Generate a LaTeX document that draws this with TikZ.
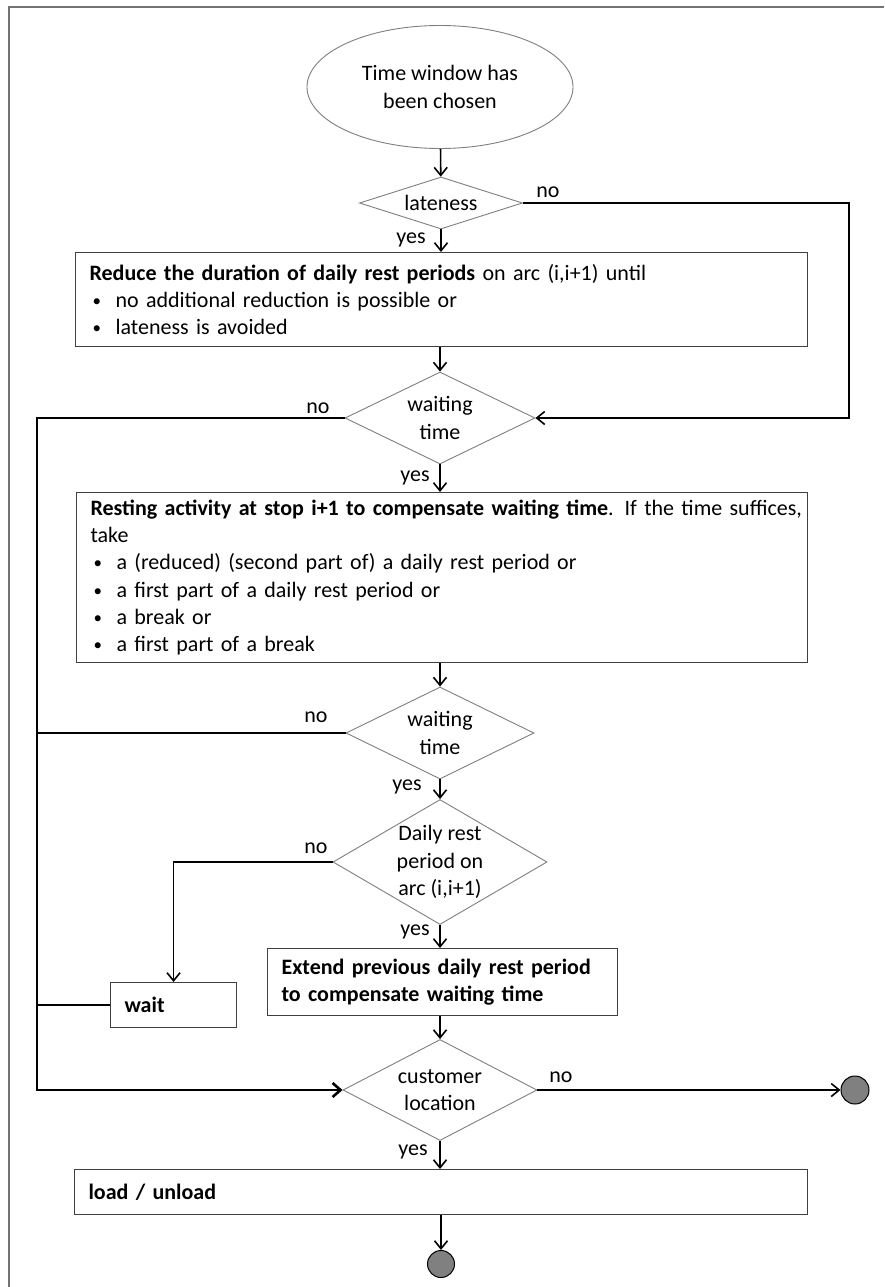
\documentclass[tikz,border=0pt]{standalone}
\usepackage{fontspec}
\setmainfont{Carlito}
\usetikzlibrary{shapes.geometric,arrows.meta,calc}
\definecolor{diagray}{HTML}{7F7F7F}
\definecolor{boxgray}{HTML}{404040}
\definecolor{endgray}{HTML}{808080}
\definecolor{framegray}{HTML}{737373}
\newcommand{\myb}{\hspace*{3pt}\makebox[23pt][l]{\raisebox{1pt}{\fontsize{17}{17}\selectfont •}}}
\begin{document}
\begin{tikzpicture}[x=1pt,y=-1pt,
  every node/.style={font=\fontsize{22}{27.3}\selectfont},
  dia/.style={diamond, draw=diagray, line width=0.9pt, inner sep=0pt},
  dtext/.style={align=center, inner sep=0pt},
  box/.style={draw=boxgray, line width=1.1pt, rectangle, align=left, anchor=north west, inner xsep=14pt, inner ysep=0pt},
  lbl/.style={inner sep=0pt},
  conn/.style={line width=1.6pt, draw=black},
  arr/.style={conn, -{Straight Barb[length=8pt,width=13pt]}},
  trunk/.style={line width=2.6pt, draw=black},
  endc/.style={circle, draw=black, fill=endgray, line width=1pt, minimum size=28pt, inner sep=0pt}
]
\useasboundingbox (0,0) rectangle (884,1287);
\fill[white] (0,0) rectangle (884,1287);
\draw[framegray, line width=2.5pt] (9,1287) -- (9,7) -- (884,7);

% shapes
\node[ellipse, draw=diagray, line width=0.9pt, minimum width=266pt, minimum height=123pt, inner sep=0pt, align=center] (start) at (440,87) {Time window has\\been chosen};

\node[dia, minimum width=163pt, minimum height=52pt] (d1) at (441,203) {};
\node[dtext] (d1t) at (d1) {lateness};

\node[box, minimum width=732pt, minimum height=94pt, text width=704pt] (b1) at (75,252)
 {\mbox{\textbf{Reduce the duration of daily rest periods} on arc (i,i+1) until}\\
  \myb no additional reduction is possible or\\
  \myb lateness is avoided};

\node[dia, minimum width=190pt, minimum height=92pt] (d2) at (440,418) {};
\node[dtext] (d2t) at (d2) {waiting\\time};

\node[box, minimum width=731pt, minimum height=170pt, text width=703pt] (b2) at (76,492)
 {\mbox{\textbf{Resting activity at stop i+1 to compensate waiting time}. If the time suffices,}\\
  take\\
  \myb a (reduced) (second part of) a daily rest period or\\
  \myb a first part of a daily rest period or\\
  \myb a break or\\
  \myb a first part of a break};

\node[dia, minimum width=188pt, minimum height=92pt] (d3) at (440,733) {};
\node[dtext] (d3t) at (d3) {waiting\\time};

\node[dia, minimum width=214pt, minimum height=125pt] (d4) at (440,862) {};
\node[dtext] (d4t) at (d4) {Daily rest\\period on\\arc (i,i+1)};

\node[box, minimum width=350pt, minimum height=67pt, text width=322pt] (b3) at (267,948)
 {\textbf{Extend previous daily rest period}\\\textbf{to compensate waiting time}};

\node[box, minimum width=126pt, minimum height=45pt, text width=98pt] (w) at (110,982)
 {\textbf{wait}};

\node[dia, minimum width=194pt, minimum height=101pt] (d5) at (440,1090) {};
\node[dtext] (d5t) at (d5) {customer\\location};

\node[box, minimum width=733pt, minimum height=45pt, text width=705pt] (b4) at (74,1169)
 {\textbf{load / unload}};

\node[endc] (e1) at (855,1090) {};
\node[endc, minimum size=27pt] (e2) at (441,1264) {};

% helper coordinates
\coordinate (r1) at (849,203);
\coordinate (t2) at (37,1090);

% connectors
\draw[arr] (start) -- (d1);
\draw[arr] (d1.south) -- (d1.south |- b1.north);
\draw[arr] (d1.east) -- (r1) |- (d2.east);
\draw[arr] (d2.north |- b1.south) -- (d2.north);
\draw[arr] (d2.south) -- (d2.south |- b2.north);
\draw[arr] (d3.north |- b2.south) -- (d3.north);
\draw[arr] (d3.south) -- (d4.north);
\draw[arr] (d4.south) -- (d4.south |- b3.north);
\draw[arr] (d4.west) -| (w.north);
\draw[arr] (d5.north |- b3.south) -- (d5.north);
\draw[trunk, -{Straight Barb[length=8pt,width=14pt]}] (d2.west) -| (t2) -- (d5.west);
\draw[conn] (d3.west) -- (d3.west -| t2);
\draw[conn] (w.west) -- (w.west -| t2);
\draw[arr] (d5.east) -- (e1.west);
\draw[arr] (d5.south) -- (d5.south |- b4.north);
\draw[arr] (b4.south -| e2.north) -- (e2.north);

% labels
\node[lbl] (l1) at (548,192) {no};
\node[lbl] (l2) at (411,240) {yes};
\node[lbl] (l3) at (318,408) {no};
\node[lbl] (l4) at (415,478) {yes};
\node[lbl] (l5) at (316,717) {no};
\node[lbl] (l6) at (407,787) {yes};
\node[lbl] (l7) at (316,848) {no};
\node[lbl] (l8) at (415,932) {yes};
\node[lbl] (l9) at (561,1077) {no};
\node[lbl] (l10) at (413,1152) {yes};
\end{tikzpicture}
\end{document}
